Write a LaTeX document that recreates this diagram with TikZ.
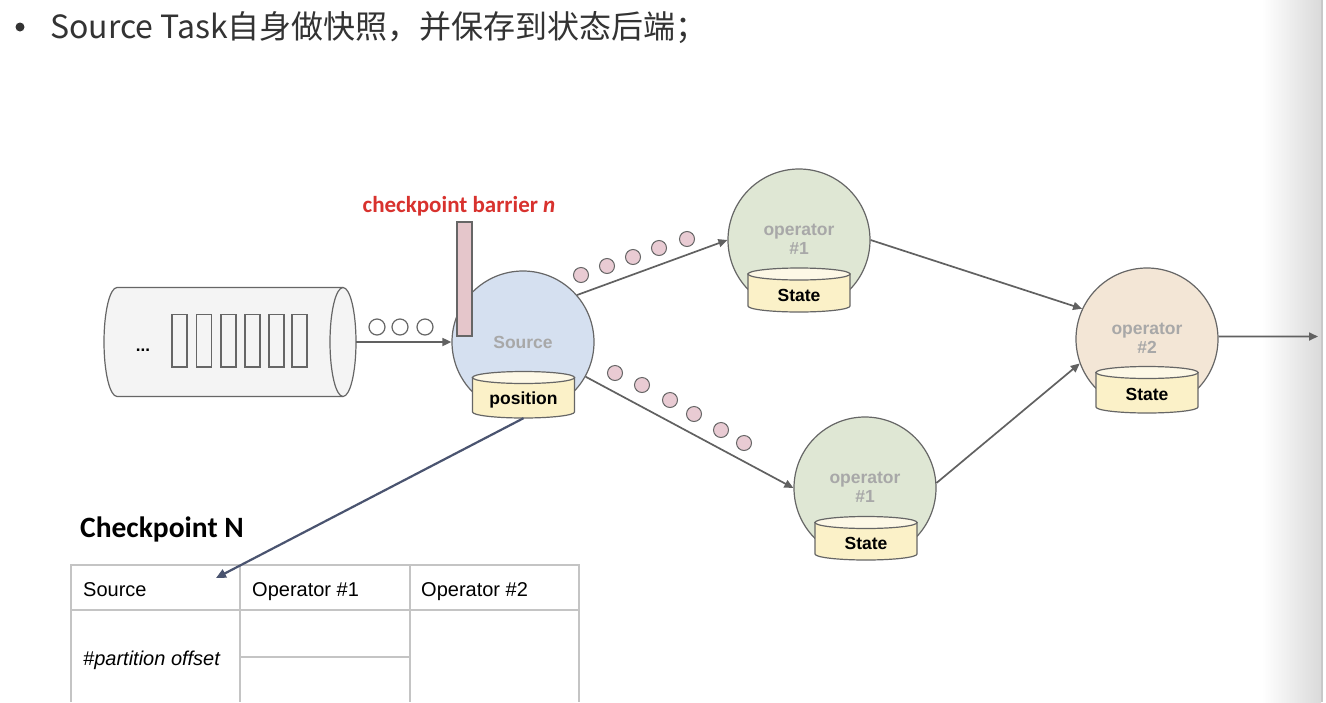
\documentclass[tikz,border=0pt]{standalone}
\usepackage{fontspec}
\setmainfont{Liberation Sans}
\newfontfamily\cjkfont{Noto Sans CJK SC}
\newfontfamily\calfont{Carlito}
\usetikzlibrary{arrows.meta}

\definecolor{inkdark}{HTML}{333333}
\definecolor{edgegray}{HTML}{666666}
\definecolor{flowgray}{HTML}{616161}
\definecolor{labgray}{HTML}{A8A8A8}
\definecolor{pipefill}{HTML}{F4F4F4}
\definecolor{srcfill}{HTML}{D5E0F0}
\definecolor{opgreen}{HTML}{DFE7D4}
\definecolor{oppeach}{HTML}{F3E6D6}
\definecolor{statefill}{HTML}{FBF1C8}
\definecolor{statetop}{HTML}{FDF8E6}
\definecolor{tokpink}{HTML}{E9CBD3}
\definecolor{barpink}{HTML}{E5C6CB}
\definecolor{barred}{HTML}{D8322E}
\definecolor{linkblue}{HTML}{4A5470}
\definecolor{gridgray}{HTML}{C4C4C4}
\definecolor{shadegray}{HTML}{DADADA}
\definecolor{rimgray}{HTML}{C8C8C8}

% storage drum: name, centre x, top-ellipse y, bottom-ellipse y, half width, label
\newcommand\storedrum[6]{%
  \path[fill=statefill, draw=edgegray, line width=1.2pt]
    ({#2-#5},#3) -- ({#2-#5},#4)
    arc[start angle=180, end angle=360, x radius=#5pt, y radius=6pt]
    -- ({#2+#5},#3) -- cycle;
  \path[fill=statetop, draw=edgegray, line width=1.2pt]
    (#2,#3) ellipse[x radius=#5pt, y radius=6pt];
  \node[minimum width={2*#5pt}, minimum height={#4-#3+12pt}, inner sep=0pt]
    (#1) at (#2,{(#3+#4)/2}) {};
  \node[drumtext] (#1-text) at (#2,{(#3+#4)/2+5}) {#6};
}

\begin{document}
\begin{tikzpicture}[x=1pt, y=-1pt,
  flow/.style={draw=flowgray, line width=1.7pt, -{Triangle[length=9pt, width=8pt]}},
  opcirc/.style={circle, draw=edgegray, line width=1.2pt, minimum size=142pt, inner sep=0pt},
  token/.style={circle, draw=edgegray, line width=1pt, fill=tokpink, minimum size=15pt, inner sep=0pt},
  hollow/.style={circle, draw=edgegray, line width=1.2pt, fill=white, minimum size=16pt, inner sep=0pt},
  optext/.style={text=labgray, font=\fontsize{17.5}{20}\selectfont\bfseries, align=center, inner sep=0pt},
  drumtext/.style={text=black, font=\fontsize{17.5}{20}\selectfont\bfseries, inner sep=0pt},
  celltext/.style={text=black, font=\fontsize{20}{24}\selectfont, anchor=base west, inner sep=0pt},
  grid/.style={draw=gridgray, line width=1.2pt}
]
\useasboundingbox (0,0) rectangle (1326,702);
\fill[white] (0,0) rectangle (1326,702);

% page edge shading
\shade[left color=white, right color=shadegray] (1262,0) rectangle (1321,702);
\draw[rimgray, line width=1.5pt] (1322,0) -- (1322,702);

% bullet line
\fill[inkdark] (20,27) circle[radius=4.5pt];
\node[anchor=base west, inner sep=0pt, text=inkdark, font=\cjkfont\fontsize{32}{36}\selectfont]
  (heading) at (50,38) {Source Task自身做快照，并保存到状态后端；};

% input pipe
\path[fill=pipefill, draw=edgegray, line width=1.2pt]
  (343,287.5) -- (117,287.5)
  arc[start angle=90, end angle=270, x radius=13pt, y radius=54.5pt]
  -- (343,396.5);
\path[fill=pipefill, draw=edgegray, line width=1.2pt]
  (343,342) ellipse[x radius=13pt, y radius=54.5pt];
\node[minimum width=252pt, minimum height=109pt, inner sep=0pt] (pipe) at (230,342) {};
\node[anchor=base, inner sep=0pt, font=\fontsize{17}{20}\selectfont\bfseries] (more) at (143,351) {...};
\foreach \xl in {172,196.5,221,245,269,292}
  \draw[edgegray, line width=1.1pt] (\xl,314.5) rectangle ++(15,52.5);

% operators
\node[opcirc, fill=srcfill] (source) at (523,342) {};
\node[optext] (source-text) at (523,342) {Source};
\node[opcirc, fill=opgreen] (opA) at (799,240) {};
\node[optext] (opA-text) at (799,239) {operator\\[-1pt]\#1};
\node[opcirc, fill=opgreen] (opB) at (865,488) {};
\node[optext] (opB-text) at (865,487) {operator\\[-1pt]\#1};
\node[opcirc, fill=oppeach] (opC) at (1147,339) {};
\node[optext] (opC-text) at (1147,338) {operator\\[-1pt]\#2};

% state backends
\storedrum{pos}{523.5}{377.5}{412}{51}{position}
\storedrum{stA}{799}{274}{306}{51}{State}
\storedrum{stB}{866}{522.5}{554}{51}{State}
\storedrum{stC}{1147}{372.5}{407}{51}{State}

% barrier
\node[draw=edgegray, line width=1.2pt, fill=barpink, minimum width=15pt, minimum height=114pt,
  inner sep=0pt] (barrier) at (464.5,279) {};
\node[anchor=base, inner sep=0pt, text=barred, font=\calfont\fontsize{23}{26}\selectfont\bfseries]
  (barrier-label) at (459,212) {checkpoint barrier \textit{n}};

% records in flight
\foreach \xx [count=\i] in {377,400,425}
  \node[hollow] (rec\i) at (\xx,327) {};
\foreach \xx/\yy [count=\i] in {581/275,607/266,633/257,659/248,687/239}
  \node[token] (up\i) at (\xx,\yy) {};
\foreach \xx/\yy [count=\i] in {615/373,642/385,670/400,694/414,721/430,744/443}
  \node[token] (down\i) at (\xx,\yy) {};

% data flow
\draw[flow] (pipe.east) -- (source.west);
\draw[flow] (source.41) -- (opA.west);
\draw[flow] (source.-29) -- (opB.west);
\draw[flow] (opA.east) -- (opC.155);
\draw[flow] (opB.4) -- (opC.200);
\coordinate (sink) at (1318,336.5);
\draw[flow] (opC.2) -- (sink);

% checkpoint table
\node[anchor=base west, inner sep=0pt, font=\calfont\fontsize{29.5}{32}\selectfont\bfseries]
  (ckpt-title) at (80,537) {Checkpoint N};
\draw[grid] (71,702) -- (71,565) -- (579,565) -- (579,702);
\draw[grid] (71,610) -- (579,610);
\draw[grid] (240,565) -- (240,702);
\draw[grid] (410,565) -- (410,702);
\draw[grid] (240,657) -- (410,657);
\node[celltext] (col-source) at (83,596) {Source};
\node[celltext] (col-opA) at (252,596) {Operator \#1};
\node[celltext] (col-opB) at (421,596) {Operator \#2};
\node[celltext, font=\fontsize{20}{24}\selectfont\itshape] (cell-offset) at (83,665) {\#partition offset};

% snapshot written to the table
\coordinate (slot) at (216,578);
\draw[draw=linkblue, line width=2.2pt, -{Triangle[length=10pt, width=9pt]}] (pos.south) -- (slot);
\end{tikzpicture}
\end{document}
